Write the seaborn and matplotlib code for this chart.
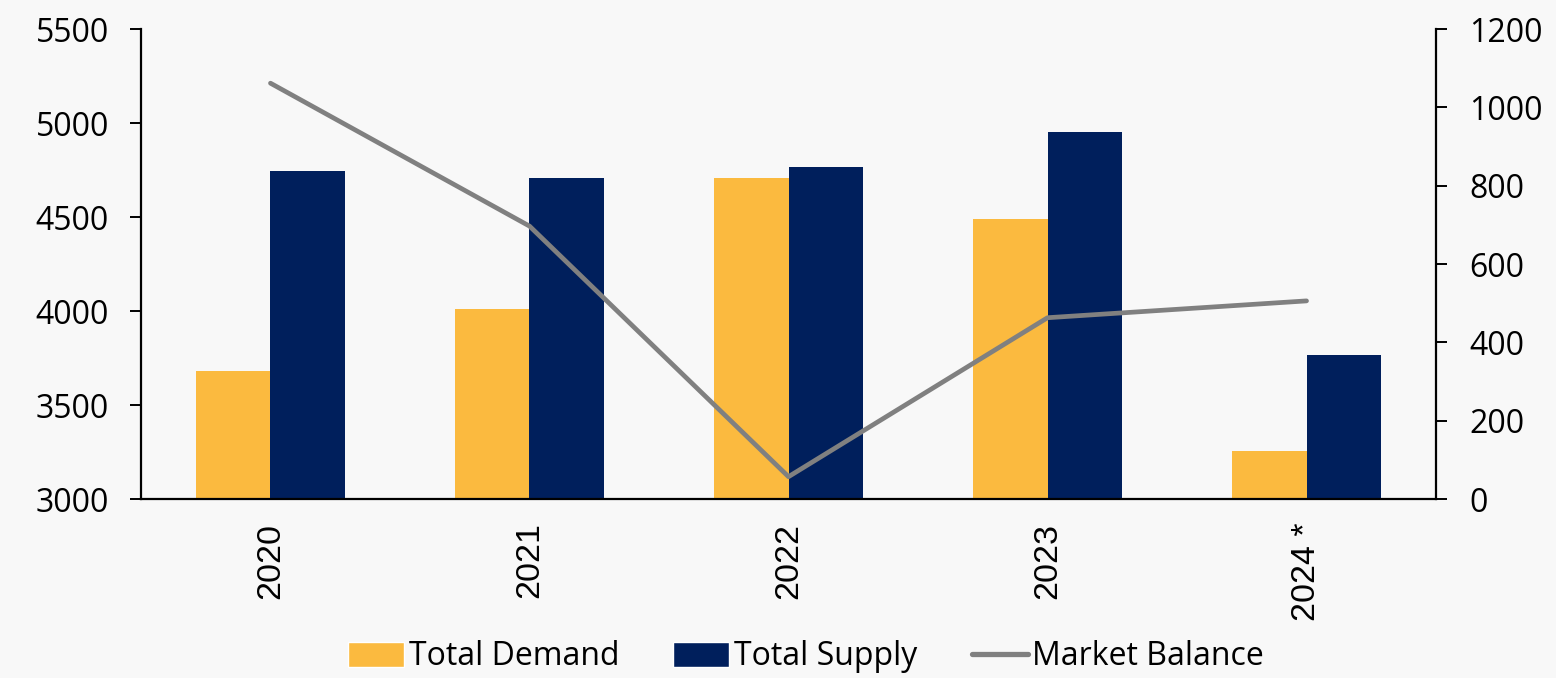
import numpy as np
import pandas as pd
import matplotlib
matplotlib.use("Agg")
import matplotlib.pyplot as plt
import seaborn as sns
from matplotlib.patches import Patch
from matplotlib.lines import Line2D

# ----------------------------------
# Daten
# ----------------------------------
jahre = ["2020", "2021", "2022", "2023", "2024 *"]
total_demand = [3680, 4010, 4707, 4492, 3258]
total_supply = [4744, 4707, 4766, 4955, 3766]
market_balance = [1062, 697, 57, 463, 506]

farben = {"Total Demand": "#FBBA3F", "Total Supply": "#001F5C"}
linien_farbe = "#808080"
hintergrund = "#F8F8F8"

df = pd.DataFrame({"Jahr": jahre, "Total Demand": total_demand, "Total Supply": total_supply})
df_long = df.melt(id_vars="Jahr", var_name="Serie", value_name="Wert")

# ----------------------------------
# Plot
# ----------------------------------
sns.set_style("ticks")
plt.rcParams["font.family"] = ["Open Sans", "DejaVu Sans"]
plt.rcParams["text.color"] = "black"
plt.rcParams["xtick.color"] = "black"
plt.rcParams["ytick.color"] = "black"

fig = plt.figure(figsize=(15.56, 6.78), dpi=100, facecolor=hintergrund)
ax = fig.add_axes([0.0906, 0.264, 0.8323, 0.693])
ax.set_facecolor(hintergrund)

sns.barplot(data=df_long, x="Jahr", y="Wert", hue="Serie", palette=farben,
            width=0.572, gap=0, ax=ax, legend=False, saturation=1, linewidth=0)

ax.set_xlim(-0.5, len(jahre) - 0.5)
ax.set_ylim(3000, 5500)
ax.set_yticks(range(3000, 5501, 500))
ax.set_xlabel("")
ax.set_ylabel("")

ax2 = ax.twinx()
sns.lineplot(x=np.arange(len(jahre)), y=market_balance, ax=ax2, color=linien_farbe,
             linewidth=3.4, legend=False)
ax2.set_ylim(0, 1200)
ax2.set_yticks(range(0, 1201, 200))
ax2.set_ylabel("")

for a in (ax, ax2):
    a.spines["top"].set_visible(False)
    for s in a.spines.values():
        s.set_linewidth(1.6)
        s.set_color("black")
ax.spines["right"].set_visible(False)
ax2.spines["left"].set_visible(False)
ax2.spines["bottom"].set_visible(False)

ax.tick_params(axis="y", length=8, width=1.4, pad=15, labelsize=23)
ax2.tick_params(axis="y", length=8, width=1.4, pad=16, labelsize=23)
ax.tick_params(axis="x", length=0, pad=17, labelrotation=90)
for lbl in ax.get_xticklabels():
    lbl.set_fontfamily(["Liberation Sans", "DejaVu Sans"])
    lbl.set_fontsize(24.5)

# ----------------------------------
# Legende
# ----------------------------------
handles = [
    Patch(facecolor=farben["Total Demand"], label="Total Demand"),
    Patch(facecolor=farben["Total Supply"], label="Total Supply"),
    Line2D([0], [0], color=linien_farbe, linewidth=3.8, label="Market Balance"),
]
fig.legend(handles=handles, loc="center", bbox_to_anchor=(0.518, 0.031), ncol=3,
           frameon=False, handlelength=1.75, handleheight=0.85,
           handletextpad=0.15, columnspacing=1.7,
           prop={"family": ["Open Sans", "DejaVu Sans"], "size": 23})

fig.savefig("out.png", dpi=100, facecolor=hintergrund)
